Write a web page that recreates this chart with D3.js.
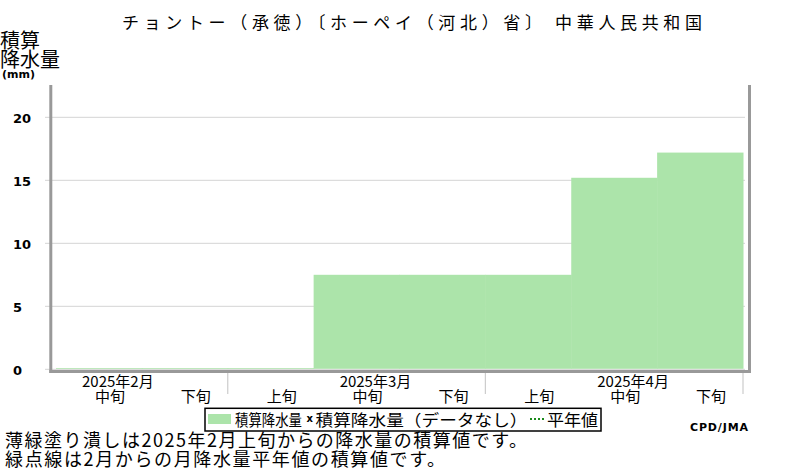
<!DOCTYPE html>
<html><head><meta charset="utf-8">
<script src="https://cdn.jsdelivr.net/npm/d3@7"></script>
<style>
html,body{margin:0;padding:0;background:#fff;}
svg{display:block;}
text{font-family:"Noto Sans CJK JP","Noto Sans",sans-serif;fill:#000;}
</style></head>
<body>
<svg id="c" width="800" height="470"></svg>
<script>
// ---- data ----
const titleText = "チョントー（承徳）〔ホーペイ（河北）省〕 中華人民共和国";
const dekadKeys = ["2月中旬","2月下旬","3月上旬","3月中旬","3月下旬","4月上旬","4月中旬","4月下旬"];
const dekadLabels = ["中旬","下旬","上旬","中旬","下旬","上旬","中旬","下旬"];
const monthLabels = ["2025年2月","2025年3月","2025年4月"];
const monthMidDekad = ["2月中旬","3月中旬","4月中旬"];
const monthStartDekad = ["3月上旬","4月上旬"];
const accumPrecip = [0.1,0.1,0.1,7.5,7.5,7.5,15.2,17.2];
const yTicks = [0,5,10,15,20];
const legendLabels = ["積算降水量","積算降水量（データなし）","平年値"];
const notes = ["薄緑塗り潰しは2025年2月上旬からの降水量の積算値です。","緑点線は2月からの月降水量平年値の積算値です。"];

// ---- layout ----
const svg = d3.select("#c");
const x = d3.scaleBand().domain(dekadKeys).range([56,743]).paddingInner(0).paddingOuter(0);
const y = d3.scaleLinear().domain([0,20]).range([369.3,117.3]);
const plotTop = 85;
const green = "#ace4aa", axisGray = "#999", gridGray = "#d4d4d4";

// title
svg.append("text").attr("x",122).attr("y",29).attr("font-size",17)
  .attr("textLength",580).attr("lengthAdjust","spacing").text(titleText);

// y axis title
svg.append("text").attr("x",0).attr("y",47.5).attr("font-size",20).text("積算");
svg.append("text").attr("x",0).attr("y",67).attr("font-size",20).text("降水量");
svg.append("text").attr("x",2).attr("y",77.5).attr("font-size",11).attr("font-weight","bold")
  .style("font-family","'DejaVu Sans',sans-serif").text("(mm)");

// gridlines
svg.append("g").selectAll("line").data(yTicks).join("line")
  .attr("x1",45).attr("x2",745).attr("y1",d=>y(d)).attr("y2",d=>y(d))
  .attr("stroke",gridGray).attr("stroke-width",1);

// y tick labels
svg.append("g").selectAll("text").data(yTicks).join("text")
  .attr("x",13).attr("y",d=>y(d)+5.2).attr("font-size",13).attr("font-weight","bold")
  .style("font-family","'DejaVu Sans',sans-serif").text(d=>d);

// bars (cumulative step)
svg.append("g").selectAll("rect").data(accumPrecip).join("rect")
  .attr("x",(d,i)=>x(dekadKeys[i])).attr("width",x.bandwidth()+0.5)
  .attr("y",d=>y(d)).attr("height",d=>y(0)-0.5-y(d)).attr("fill",green);

// frame
const fr = svg.append("g").attr("stroke",axisGray).attr("stroke-width",3);
fr.append("line").attr("x1",50.8).attr("x2",50.8).attr("y1",plotTop).attr("y2",373);
fr.append("line").attr("x1",749.5).attr("x2",749.5).attr("y1",plotTop).attr("y2",373);
fr.append("line").attr("x1",49.3).attr("x2",751).attr("y1",371.6).attr("y2",371.6);

// month separators
const seps = monthStartDekad.map(k=>x(k)).concat([x.range()[1]]);
svg.append("g").selectAll("line").data(seps).join("line")
  .attr("x1",d=>d).attr("x2",d=>d).attr("y1",373).attr("y2",394)
  .attr("stroke","#ccc").attr("stroke-width",1.2);

// dekad labels
svg.append("g").selectAll("text").data(dekadLabels).join("text")
  .attr("x",(d,i)=>x(dekadKeys[i])+x.bandwidth()/2+11).attr("y",402)
  .attr("font-size",15).attr("text-anchor","middle").text(d=>d);

// month labels
svg.append("g").selectAll("text").data(monthLabels).join("text")
  .attr("x",(d,i)=>x(monthMidDekad[i])+26).attr("y",387)
  .attr("font-size",15).text(d=>d);

// legend
const lg = svg.append("g");
lg.append("rect").attr("x",205).attr("y",408.3).attr("width",396).attr("height",22.7)
  .attr("fill","#fff").attr("stroke","#000").attr("stroke-width",1.5);
lg.append("rect").attr("x",208).attr("y",414).attr("width",23).attr("height",10).attr("fill",green);
lg.append("text").attr("x",235).attr("y",425.5).attr("font-size",16)
  .attr("textLength",67).attr("lengthAdjust","spacingAndGlyphs").text(legendLabels[0]);
lg.append("text").attr("x",306.5).attr("y",422).attr("font-size",10).attr("font-weight","bold")
  .style("font-family","'DejaVu Sans',sans-serif").text("x");
lg.append("text").attr("x",315.5).attr("y",425.5).attr("font-size",16)
  .attr("textLength",212).attr("lengthAdjust","spacingAndGlyphs").text(legendLabels[1]);
lg.append("line").attr("x1",530).attr("x2",545).attr("y1",419).attr("y2",419)
  .attr("stroke","#1a8a1a").attr("stroke-width",2).attr("stroke-dasharray","2,2");
lg.append("text").attr("x",547).attr("y",425.5).attr("font-size",16)
  .attr("textLength",51).attr("lengthAdjust","spacingAndGlyphs").text(legendLabels[2]);

// credit
svg.append("text").attr("x",690).attr("y",431).attr("font-size",11).attr("font-weight","bold")
  .style("font-family","'DejaVu Sans',sans-serif").attr("textLength",58).attr("lengthAdjust","spacing").text("CPD/JMA");

// footnotes
svg.append("text").attr("x",5).attr("y",446.5).attr("font-size",18)
  .attr("textLength",522).attr("lengthAdjust","spacing").text(notes[0]);
svg.append("text").attr("x",5).attr("y",465.5).attr("font-size",18)
  .attr("textLength",440).attr("lengthAdjust","spacing").text(notes[1]);
</script>
</body></html>
